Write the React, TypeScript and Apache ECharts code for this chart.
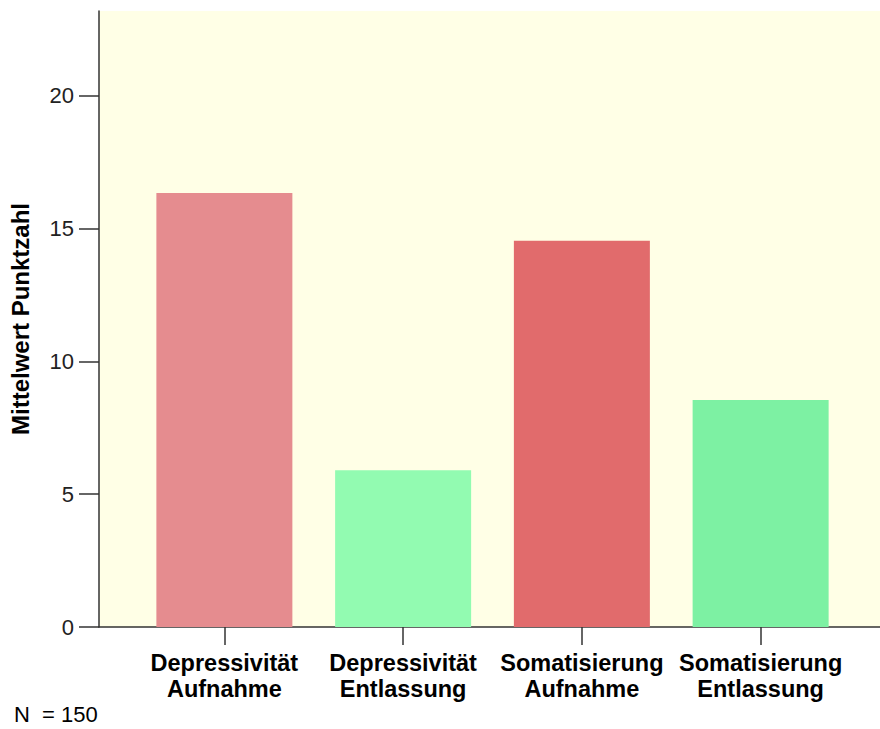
import React, { useEffect, useRef } from "react";
import * as echarts from "echarts";

const categories = [
  "Depressivität\nAufnahme",
  "Depressivität\nEntlassung",
  "Somatisierung\nAufnahme",
  "Somatisierung\nEntlassung",
];
const values = [16.35, 5.9, 14.55, 8.55];
const barColors = ["#E58C8F", "#92FBB1", "#E16B6C", "#7DF1A3"];
const yTicks = [0, 5, 10, 15, 20];
const yMax = 23.2;
const yAxisTitle = "Mittelwert Punktzahl";
const footnote = "N  = 150";

const FONT = "'Liberation Sans', Arial, sans-serif";

export default function App() {
  const ref = useRef<HTMLDivElement>(null);
  useEffect(() => {
    if (!ref.current) return;
    const chart = echarts.init(ref.current, null, { renderer: "svg" });
    const axisColor = "#333333";
    chart.setOption({
      animation: false,
      backgroundColor: "#ffffff",
      textStyle: { fontFamily: FONT },
      grid: [
        { left: 135, right: 30, top: 11, bottom: 102 },
        {
          left: 97,
          right: 0,
          top: 11,
          bottom: 102,
          show: true,
          backgroundColor: "#FFFFE6",
          borderWidth: 0,
          z: 0,
        },
      ],
      xAxis: [
        {
          type: "category",
          gridIndex: 0,
          data: categories,
          axisLine: { show: false },
          axisTick: {
            show: true,
            alignWithLabel: true,
            length: 18,
            lineStyle: { color: axisColor, width: 1.5 },
          },
          axisLabel: {
            color: "#000",
            fontFamily: FONT,
            fontWeight: "bold",
            fontSize: 23.5,
            lineHeight: 26,
            margin: 23,
            interval: 0,
          },
          splitLine: { show: false },
        },
        {
          type: "value",
          gridIndex: 1,
          min: 0,
          max: 1,
          axisLine: { show: true, onZero: false, lineStyle: { color: axisColor, width: 1.5 } },
          axisTick: { show: false },
          axisLabel: { show: false },
          splitLine: { show: false },
        },
      ],
      yAxis: [
        {
          type: "value",
          gridIndex: 0,
          min: 0,
          max: yMax,
          show: false,
        },
        {
          type: "value",
          gridIndex: 1,
          min: 0,
          max: yMax,
          interval: 5,
          axisLine: { show: true, lineStyle: { color: axisColor, width: 1.5 } },
          axisTick: { show: true, length: 20, lineStyle: { color: axisColor, width: 1.5 } },
          axisLabel: {
            color: "#222",
            fontFamily: FONT,
            fontSize: 22,
            margin: 25,
            showMaxLabel: false,
            formatter: (v: number) => (yTicks.includes(v) ? String(v) : ""),
          },
          splitLine: { show: false },
          name: yAxisTitle,
          nameLocation: "middle",
          nameGap: 67,
          nameTextStyle: {
            color: "#000",
            fontFamily: FONT,
            fontWeight: "bold",
            fontSize: 24,
          },
        },
      ],
      series: [
        {
          type: "bar",
          xAxisIndex: 0,
          yAxisIndex: 0,
          barWidth: 136,
          z: 3,
          data: values.map((v, i) => ({ value: v, itemStyle: { color: barColors[i] } })),
        },
      ],
      graphic: [
        {
          type: "text",
          left: 14,
          top: 703,
          style: {
            text: footnote,
            fontFamily: FONT,
            fontSize: 22,
            fill: "#000",
          },
        },
      ],
    });
    return () => chart.dispose();
  }, []);
  return <div ref={ref} style={{ width: 880, height: 729, position: "absolute", left: 0, top: 0 }} />;
}
